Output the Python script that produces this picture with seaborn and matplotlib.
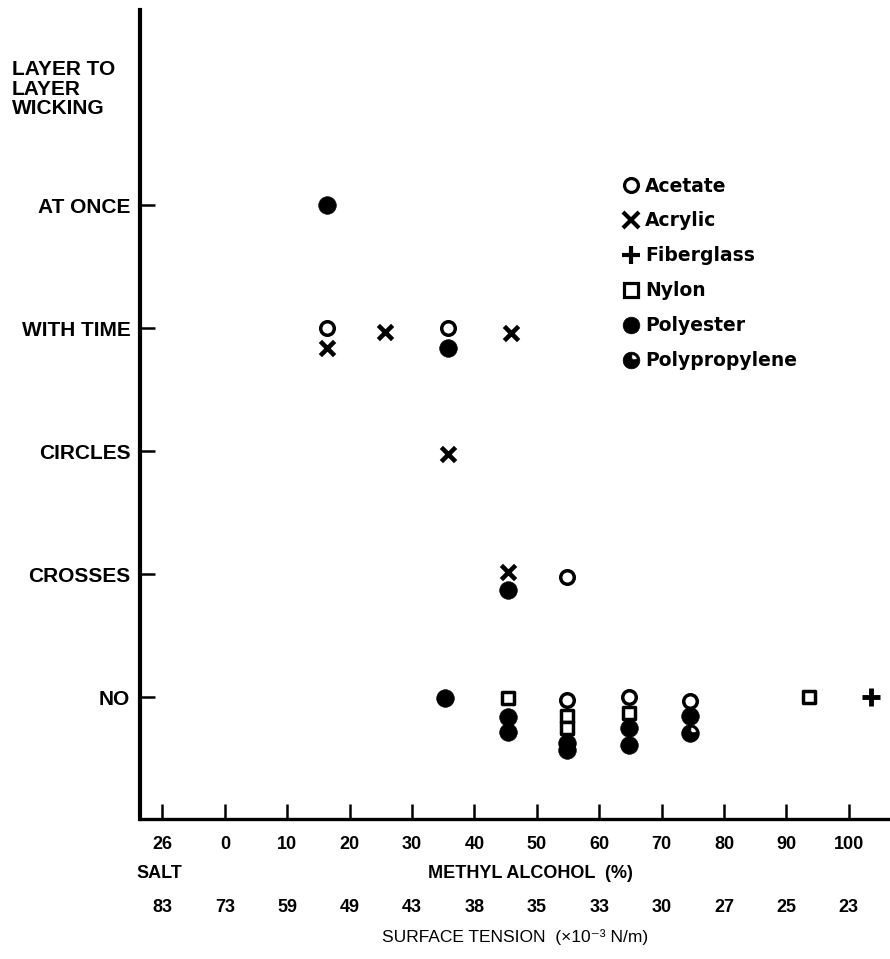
import numpy as np
import pandas as pd
import matplotlib
matplotlib.use("Agg")
import matplotlib.pyplot as plt
import seaborn as sns
from matplotlib.path import Path
from matplotlib.lines import Line2D

# ---------------- data ----------------
alcohol_ticks = [-10, 0, 10, 20, 30, 40, 50, 60, 70, 80, 90, 100]
alcohol_labels = ["26", "0", "10", "20", "30", "40", "50", "60", "70", "80", "90", "100"]
tension_labels = ["83", "73", "59", "49", "43", "38", "35", "33", "30", "27", "25", "23"]

wicking_levels = [0, 1, 2, 3, 4]
wicking_labels = ["NO", "CROSSES", "CIRCLES", "WITH TIME", "AT ONCE"]

acetate_x = [16.4, 35.8, 54.9, 54.9, 64.7, 74.6]
acetate_y = [3.0, 3.0, 0.98, -0.02, 0.0, -0.03]

acrylic_x = [16.4, 25.6, 45.8, 35.8, 45.3]
acrylic_y = [2.84, 2.97, 2.96, 1.98, 1.02]

fiberglass_x = [103.5]
fiberglass_y = [0.0]

nylon_x = [45.3, 54.9, 54.9, 64.7, 93.6]
nylon_y = [-0.01, -0.15, -0.25, -0.13, 0.0]

polyester_x = [16.4, 35.8, 45.3, 35.3, 45.3, 45.3, 54.9, 54.9, 64.7, 64.7, 74.6]
polyester_y = [4.0, 2.84, 0.87, -0.01, -0.16, -0.28, -0.37, -0.43, -0.25, -0.39, -0.15]

polypropylene_x = [74.6]
polypropylene_y = [-0.29]

fabrics = ["Acetate", "Acrylic", "Fiberglass", "Nylon", "Polyester", "Polypropylene"]

# ---------------- polypropylene marker (circle with a notch) ----------------
th = np.linspace(0, 2 * np.pi, 65)
outer = np.column_stack([np.cos(th), np.sin(th)])
a = np.linspace(np.deg2rad(85), np.deg2rad(15), 14)
hole = np.vstack([np.column_stack([0.72 * np.cos(a), 0.72 * np.sin(a)]),
                  np.column_stack([0.22 * np.cos(a[::-1]), 0.22 * np.sin(a[::-1])])])
verts = np.vstack([outer, outer[:1], hole, hole[:1]])
codes = ([Path.MOVETO] + [Path.LINETO] * (len(outer) - 1) + [Path.CLOSEPOLY] +
         [Path.MOVETO] + [Path.LINETO] * (len(hole) - 1) + [Path.CLOSEPOLY])
pp_marker = Path(verts, codes)

# ---------------- styling ----------------
sns.set_style("ticks")
plt.rcParams["font.family"] = ["Liberation Sans", "DejaVu Sans"]
plt.rcParams.update({"text.color": "black", "axes.labelcolor": "black",
                     "xtick.color": "black", "ytick.color": "black",
                     "axes.edgecolor": "black"})

fig = plt.figure(figsize=(8.9, 9.59), dpi=100)
ax = fig.add_axes([140 / 890, 140 / 959, 750 / 890, 809 / 959])

styles = {
    "Polyester": dict(marker="o", s=160, color="black", edgecolor="black", linewidth=0.5),
    "Polypropylene": dict(marker=pp_marker, s=160, color="black", edgecolor="black", linewidth=0.5),
    "Nylon": dict(marker="s", s=85, color="white", edgecolor="black", linewidth=2.5),
    "Acetate": dict(marker="o", s=95, color="white", edgecolor="black", linewidth=2.5),
    "Acrylic": dict(marker="x", s=105, color="black", linewidth=3.3),
    "Fiberglass": dict(marker="+", s=180, color="black", linewidth=3.5),
}
data = {
    "Acetate": (acetate_x, acetate_y),
    "Acrylic": (acrylic_x, acrylic_y),
    "Fiberglass": (fiberglass_x, fiberglass_y),
    "Nylon": (nylon_x, nylon_y),
    "Polyester": (polyester_x, polyester_y),
    "Polypropylene": (polypropylene_x, polypropylene_y),
}
df = pd.concat([pd.DataFrame({"fabric": f, "alcohol": data[f][0], "wicking": data[f][1]})
                for f in fabrics], ignore_index=True)

for f in ["Polyester", "Polypropylene", "Nylon", "Acetate", "Acrylic", "Fiberglass"]:
    sub = df[df["fabric"] == f]
    sns.scatterplot(data=sub, x="alcohol", y="wicking", ax=ax, zorder=3, legend=False, **styles[f])

ax.set_xlim(-13.6, 106.6)
ax.set_ylim(-0.99, 5.585)

ax.set_xticks(alcohol_ticks, labels=alcohol_labels)
ax.set_yticks(wicking_levels, labels=wicking_labels)
ax.tick_params(axis="both", direction="in", length=11, width=1.8, color="black")
ax.tick_params(axis="x", pad=12, labelsize=13)
ax.tick_params(axis="y", pad=7, labelsize=15)
for lab in ax.get_xticklabels() + ax.get_yticklabels():
    lab.set_fontweight("bold")

for side in ["top", "right"]:
    ax.spines[side].set_visible(False)
ax.spines["left"].set_linewidth(3.0)
ax.spines["bottom"].set_linewidth(2.4)
ax.set_xlabel("")
ax.set_ylabel("")

# second row labels
ax.text(-10.5, -0.067, "SALT", transform=ax.get_xaxis_transform(), ha="center", va="center",
        fontsize=13, fontweight="bold")
ax.text(49, -0.067, "METHYL ALCOHOL  (%)", transform=ax.get_xaxis_transform(), ha="center",
        va="center", fontsize=13, fontweight="bold")

# surface tension axis
sec = ax.secondary_xaxis(-0.095)
sec.set_xticks(alcohol_ticks, labels=tension_labels)
sec.tick_params(length=0, pad=2, labelsize=13)
for lab in sec.get_xticklabels():
    lab.set_fontweight("bold")
sec.spines["bottom"].set_visible(False)
sec.set_xlabel("SURFACE TENSION  (×10⁻³ N/m)", fontsize=12.5, labelpad=10)

# y-axis title
fig.text(12 / 890, 1 - 60 / 959, "LAYER TO\nLAYER\nWICKING", ha="left", va="top",
         fontsize=15, fontweight="bold", linespacing=1.05)

# legend
handles = []
for f in fabrics:
    st = styles[f]
    if st["marker"] in ("x", "+"):
        h = Line2D([], [], linestyle="none", marker=st["marker"], color="black",
                   markersize=11 if st["marker"] == "x" else 13, markeredgewidth=3.0)
    else:
        h = Line2D([], [], linestyle="none", marker=st["marker"],
                   markerfacecolor=st["color"], markeredgecolor="black",
                   markersize=12 if st["color"] == "black" else 10,
                   markeredgewidth=0.5 if st["color"] == "black" else 2.3)
    handles.append(h)
leg = ax.legend(handles, fabrics, loc="upper left", bbox_to_anchor=(475 / 750, 1 - 159 / 809),
                frameon=False, handlelength=0.9, handletextpad=0.3, labelspacing=0.85,
                borderaxespad=0, prop={"family": "DejaVu Sans", "weight": "bold", "size": 13.5})

fig.savefig("out.png", dpi=100, facecolor="white")
